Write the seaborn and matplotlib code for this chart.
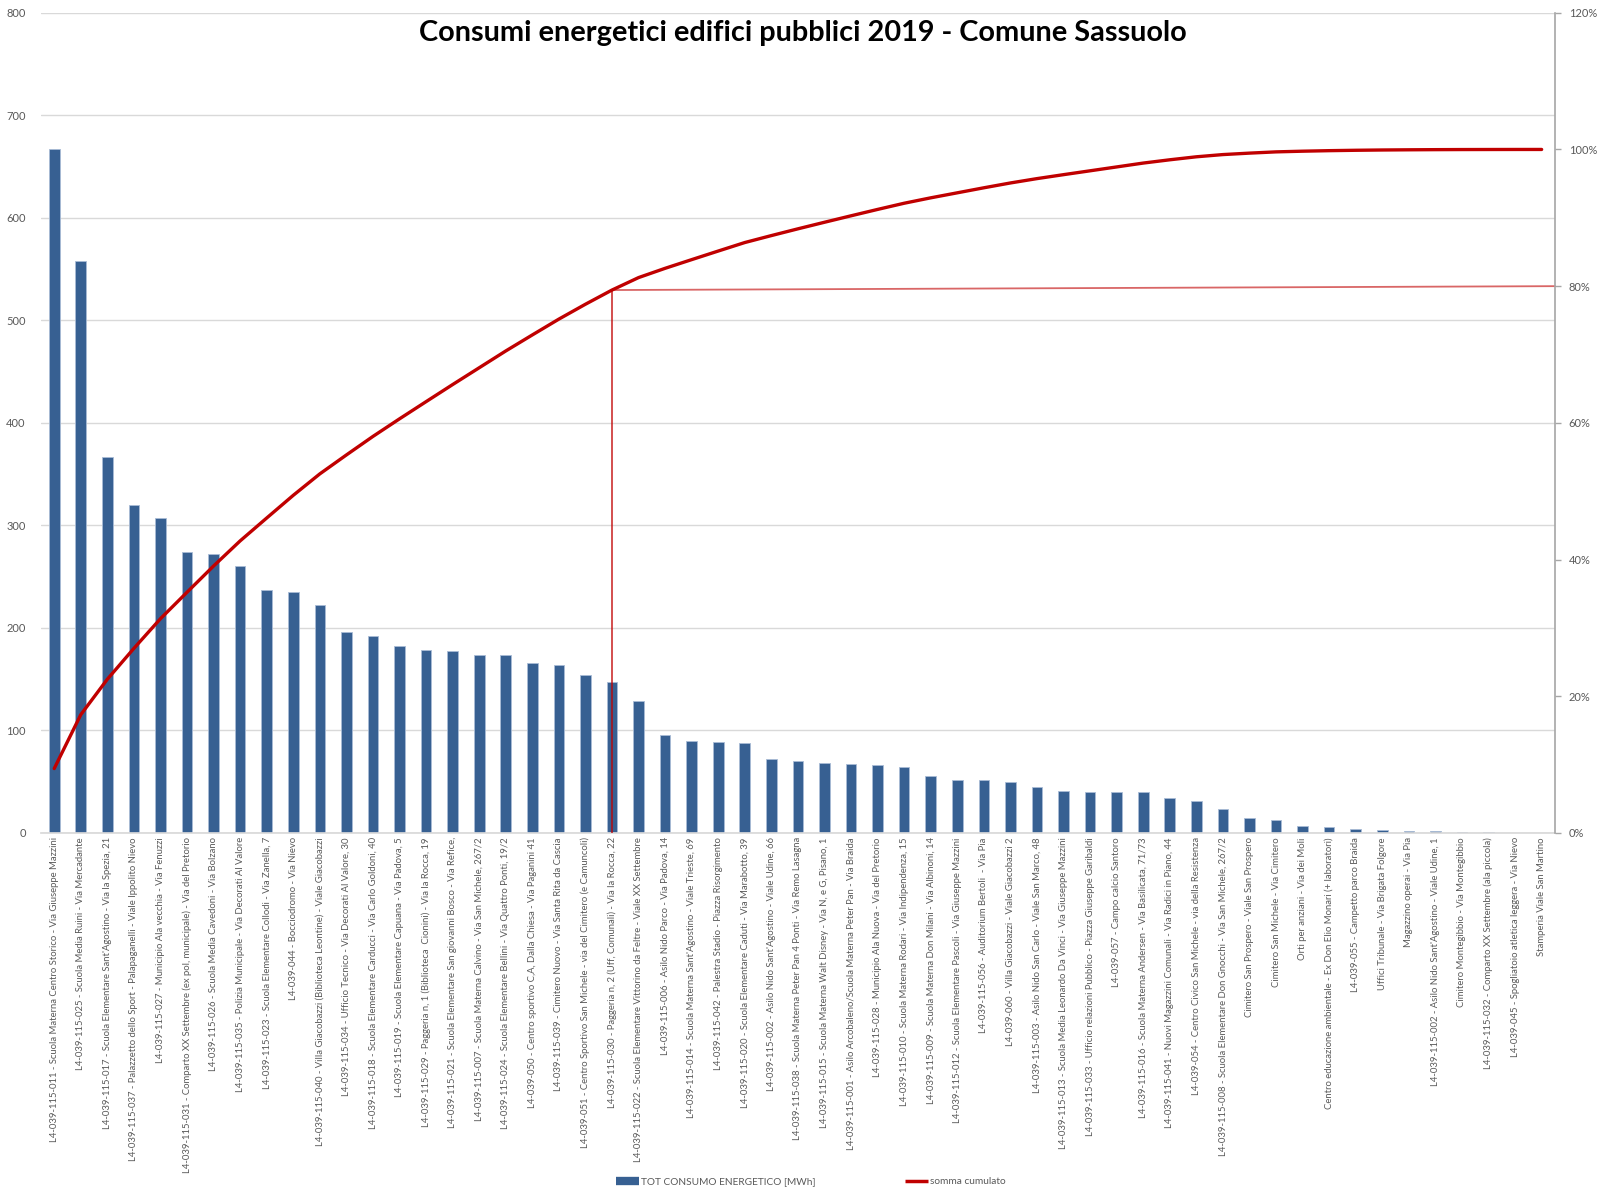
import numpy as np
import pandas as pd
import matplotlib
matplotlib.use("Agg")
import matplotlib.pyplot as plt
from matplotlib.lines import Line2D
from matplotlib.ticker import FuncFormatter, MultipleLocator
import seaborn as sns

# Edifici comunali, ordinati per consumo decrescente
edifici = [
    "L4-039-115-011 - Scuola Materna Centro Storico - Via Giuseppe Mazzini",
    "L4-039-115-025 - Scuola Media Ruini - Via Mercadante",
    "L4-039-115-017 - Scuola Elementare Sant'Agostino - Via la Spezia, 21",
    "L4-039-115-037 - Palazzetto dello Sport - Palapaganelli - Viale Ippolito Nievo",
    "L4-039-115-027 - Municipio Ala vecchia - Via Fenuzzi",
    "L4-039-115-031 - Comparto XX Settembre (ex pol, municipale) - Via del Pretorio",
    "L4-039-115-026 - Scuola Media Cavedoni - Via Bolzano",
    "L4-039-115-035 - Polizia Municipale - Via Decorati Al Valore",
    "L4-039-115-023 - Scuola Elementare Collodi - Via Zanella, 7",
    "L4-039-044 - Bocciodromo - Via Nievo",
    "L4-039-115-040 - Villa Giacobazzi (Biblioteca Leontine) - Viale Giacobazzi",
    "L4-039-115-034 - Ufficio Tecnico - Via Decorati Al Valore, 30",
    "L4-039-115-018 - Scuola Elementare Carducci - Via Carlo Goldoni, 40",
    "L4-039-115-019 - Scuola Elementare Capuana - Via Padova, 5",
    "L4-039-115-029 - Paggeria n, 1 (Biblioteca  Cionini) - Via la Rocca, 19",
    "L4-039-115-021 - Scuola Elementare San giovanni Bosco - Via Refice,",
    "L4-039-115-007 - Scuola Materna Calvino - Via San Michele, 267/2",
    "L4-039-115-024 - Scuola Elementare Bellini - Via Quattro Ponti, 19/2",
    "L4-039-050 - Centro sportivo C,A, Dalla Chiesa - Via Paganini 41",
    "L4-039-115-039 - Cimitero Nuovo - Via Santa Rita da Cascia",
    "L4-039-051 - Centro Sportivo San Michele - via del Cimitero (e Camuncoli)",
    "L4-039-115-030 - Paggeria n, 2 (Uff, Comunali) - Via la Rocca, 22",
    "L4-039-115-022 - Scuola Elementare Vittorino da Feltre - Viale XX Settembre",
    "L4-039-115-006 - Asilo Nido Parco - Via Padova, 14",
    "L4-039-115-014 - Scuola Materna Sant'Agostino - Viale Trieste, 69",
    "L4-039-115-042 - Palestra Stadio - Piazza Risorgimento",
    "L4-039-115-020 - Scuola Elementare Caduti - Via Marabotto, 39",
    "L4-039-115-002 - Asilo Nido Sant'Agostino - Viale Udine, 66",
    "L4-039-115-038 - Scuola Materna Peter Pan 4 Ponti - Via Remo Lasagna",
    "L4-039-115-015 - Scuola Materna Walt Disney - Via N, e G, Pisano, 1",
    "L4-039-115-001 - Asilo Arcobaleno/Scuola Materna Peter Pan - Via Braida",
    "L4-039-115-028 - Municipio Ala Nuova - Via del Pretorio",
    "L4-039-115-010 - Scuola Materna Rodari - Via Indipendenza, 15",
    "L4-039-115-009 - Scuola Materna Don Milani - Via Albinoni, 14",
    "L4-039-115-012 - Scuola Elementare Pascoli - Via Giuseppe Mazzini",
    "L4-039-115-056 - Auditorium Bertoli  - Via Pia",
    "L4-039-060 - Villa Giacobazzi - Viale Giacobazzi 2",
    "L4-039-115-003 - Asilo Nido San Carlo - Viale San Marco, 48",
    "L4-039-115-013 - Scuola Media Leonardo Da Vinci - Via Giuseppe Mazzini",
    "L4-039-115-033 - Ufficio relazioni Pubblico - Piazza Giuseppe Garibaldi",
    "L4-039-057 - Campo calcio Santoro",
    "L4-039-115-016 - Scuola Materna Andersen - Via Basilicata, 71/73",
    "L4-039-115-041 - Nuovi Magazzini Comunali - Via Radici in Piano, 44",
    "L4-039-054 - Centro Civico San Michele - via della Resistenza",
    "L4-039-115-008 - Scuola Elementare Don Gnocchi - Via San Michele, 267/2",
    "Cimitero San Prospero - Viale San Prospero",
    "Cimitero San Michele - Via Cimitero",
    "Orti per anziani - Via dei Moli",
    "Centro educazione ambientale - Ex Don Elio Monari (+ laboratori)",
    "L4-039-055 - Campetto parco Braida",
    "Uffici Tribunale - Via Brigata Folgore",
    "Magazzino operai - Via Pia",
    "L4-039-115-002 - Asilo Nido Sant'Agostino - Viale Udine, 1",
    "Cimitero Montegibbio - Via Montegibbio",
    "L4-039-115-032 - Comparto XX Settembre (ala piccola)",
    "L4-039-045 - Spogliatoio atletica leggera - Via Nievo",
    "Stamperia Viale San Martino",
]

# Consumo energetico totale per edificio [MWh]
consumi = [
    667, 558, 367, 320, 307, 274, 272, 260, 237, 235,
    222, 196, 192, 182, 178, 177, 174, 174, 166, 164,
    154, 147, 129, 96, 90, 89, 88, 72, 70, 68,
    67, 66, 64, 56, 52, 52, 50, 45, 41, 40,
    40, 40, 34, 31, 23, 15, 13, 7, 5.5, 4,
    3, 2, 1.5, 1, 0.5, 0.4, 0.1,
]

TITOLO = "Consumi energetici edifici pubblici 2019 - Comune Sassuolo"
ETICHETTA_BARRE = "TOT CONSUMO ENERGETICO [MWh]"
ETICHETTA_LINEA = "somma cumulato"
SOGLIA = 0.80

BLU = "#376092"
ROSSO = "#C00000"
GRIGIO_TESTO = "#595959"
GRIGIO_GRIGLIA = "#D9D9D9"
GRIGIO_ASSE = "#A6A6A6"

sns.set_theme(style="white")
plt.rcParams["font.family"] = ["Lato", "DejaVu Sans"]

df = pd.DataFrame({"edificio": edifici, "consumo": consumi})
df["cumulato"] = df["consumo"].cumsum() / df["consumo"].sum()
n = len(df)

fig = plt.figure(figsize=(16.05, 11.92), dpi=100)
ax = fig.add_axes([0.0255, 0.3012, 0.9433, 0.6881])

sns.barplot(data=df, x="edificio", y="consumo", color=BLU, saturation=1,
            width=0.4, edgecolor="#A9BCD6", linewidth=0.6, ax=ax)

ax.set_ylim(0, 800)
ax.yaxis.set_major_locator(MultipleLocator(100))
ax.grid(axis="y", color=GRIGIO_GRIGLIA, lw=1)
ax.grid(axis="x", visible=False)
ax.set_axisbelow(True)
ax.set_xlabel("")
ax.set_ylabel("")
ax.tick_params(axis="y", length=0, pad=11, labelsize=8, labelcolor=GRIGIO_TESTO)
ax.tick_params(axis="x", length=0, pad=3, labelsize=6.8, labelcolor=GRIGIO_TESTO,
               labelrotation=90)
for s in ("left", "top", "right"):
    ax.spines[s].set_visible(False)
ax.spines["bottom"].set_color(GRIGIO_GRIGLIA)

# Curva cumulata (Pareto) sull'asse secondario
ax2 = ax.twinx()
sns.lineplot(x=np.arange(n), y=df["cumulato"].to_numpy(), ax=ax2,
             color=ROSSO, lw=2.4)
ax2.set_ylim(0, 1.2)
ax2.yaxis.set_major_locator(MultipleLocator(0.2))
ax2.yaxis.set_major_formatter(FuncFormatter(lambda v, _: f"{v*100:.0f}%"))
ax2.tick_params(axis="y", length=4, width=1, color=GRIGIO_ASSE, direction="out",
                pad=6, labelsize=8, labelcolor=GRIGIO_TESTO)
ax2.grid(False)
ax2.set_ylabel("")
for s in ("left", "top", "bottom"):
    ax2.spines[s].set_visible(False)
ax2.spines["right"].set_color(GRIGIO_ASSE)
ax2.spines["right"].set_linewidth(1.2)

# Soglia dell'80%
cum = df["cumulato"].to_numpy()
idx = int(np.argmin(np.abs(cum - SOGLIA)))
ax2.plot([idx, idx], [0, cum[idx]], color=ROSSO, lw=1.3, alpha=0.75)
ax2.plot([idx, n - 0.5], [cum[idx], SOGLIA], color=ROSSO, lw=1.3, alpha=0.6,
         clip_on=False)

ax.set_xlim(-0.5, n - 0.5)

fig.text(0.5, 1 - 33 / 1192, TITOLO, ha="center", va="center",
         fontsize=20.8, fontweight="bold", color="black")

handles = [
    Line2D([], [], color=BLU, lw=6, solid_capstyle="butt"),
    Line2D([], [], color=ROSSO, lw=2.5, solid_capstyle="butt"),
]
fig.legend(handles, [ETICHETTA_BARRE, ETICHETTA_LINEA], loc="center",
           bbox_to_anchor=(0.505, 0.0085), ncol=2, frameon=False, fontsize=7.3,
           labelcolor=GRIGIO_TESTO, handlelength=2.3, handletextpad=0.2,
           columnspacing=8.8)

fig.savefig("out.png", dpi=100)
